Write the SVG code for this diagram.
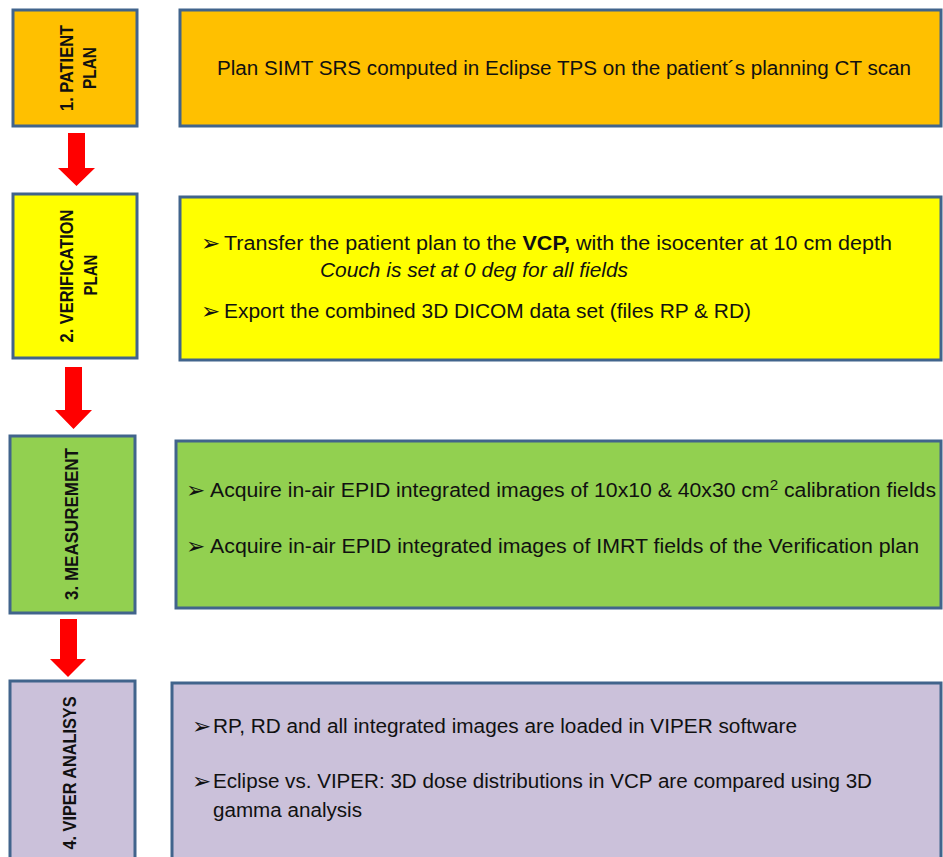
<svg xmlns="http://www.w3.org/2000/svg" width="943" height="857" viewBox="0 0 943 857">
  <style>
    .box { stroke: #41648C; stroke-width: 3; }
    .orange { fill: #FFC000; }
    .yellow { fill: #FFFF00; }
    .green { fill: #92D050; }
    .lav { fill: #CBC1DA; }
    .lbl { font-family: "Liberation Sans", Arial, sans-serif; font-weight: bold; font-size: 18px; fill: #111; text-anchor: middle; }
    .txt { font-family: "Liberation Sans", Arial, sans-serif; font-size: 19.5px; fill: #111; }
    .bul { font-family: "DejaVu Sans", sans-serif; font-size: 23px; fill: #111; }
    .arrow { fill: #FF0000; }
  </style>
  <rect x="0" y="0" width="943" height="857" fill="#FFFFFF"/>

  <g id="step1">
    <rect class="box orange" x="13" y="10" width="124" height="116"/>
    <g transform="rotate(-90)">
      <text class="lbl" x="-68" y="73" textLength="86" lengthAdjust="spacingAndGlyphs">1. PATIENT</text>
      <text class="lbl" x="-68" y="96" textLength="42" lengthAdjust="spacingAndGlyphs">PLAN</text>
    </g>
  </g>
  <g id="desc1">
    <rect class="box orange" x="180" y="10" width="761" height="116"/>
    <text class="txt" x="217" y="75" textLength="694" lengthAdjust="spacingAndGlyphs">Plan SIMT SRS computed in Eclipse TPS on the patient´s planning CT scan</text>
  </g>

  <g id="step2">
    <rect class="box yellow" x="13" y="194" width="124" height="164"/>
    <g transform="rotate(-90)">
      <text class="lbl" x="-276" y="73" textLength="133" lengthAdjust="spacingAndGlyphs">2. VERIFICATION</text>
      <text class="lbl" x="-275" y="97" textLength="41" lengthAdjust="spacingAndGlyphs">PLAN</text>
    </g>
  </g>
  <g id="desc2">
    <rect class="box yellow" x="180" y="197" width="761" height="163"/>
    <text class="bul" x="201" y="251">➢</text>
    <text class="txt" x="224" y="250" textLength="668" lengthAdjust="spacingAndGlyphs">Transfer the patient plan to the <tspan font-weight="bold">VCP,</tspan> with the isocenter at 10 cm depth</text>
    <text class="txt" x="320" y="277" font-style="italic" textLength="308" lengthAdjust="spacingAndGlyphs">Couch is set at 0 deg for all fields</text>
    <text class="bul" x="201" y="319">➢</text>
    <text class="txt" x="224" y="318" textLength="527" lengthAdjust="spacingAndGlyphs">Export the combined 3D DICOM data set (files RP &amp; RD)</text>
  </g>

  <g id="step3">
    <rect class="box green" x="10" y="436" width="125" height="177"/>
    <g transform="rotate(-90)">
      <text class="lbl" x="-524" y="78" textLength="152" lengthAdjust="spacingAndGlyphs">3. MEASUREMENT</text>
    </g>
  </g>
  <g id="desc3">
    <rect class="box green" x="176" y="441" width="765" height="167"/>
    <text class="bul" x="186" y="498">➢</text>
    <text class="txt" x="210" y="497" textLength="726" lengthAdjust="spacingAndGlyphs">Acquire in-air EPID integrated images of 10x10 &amp; 40x30 cm<tspan font-size="14" dy="-7">2</tspan><tspan dy="7"> calibration fields</tspan></text>
    <text class="bul" x="186" y="554">➢</text>
    <text class="txt" x="210" y="553" textLength="709" lengthAdjust="spacingAndGlyphs">Acquire in-air EPID integrated images of IMRT fields of the Verification plan</text>
  </g>

  <g id="step4">
    <rect class="box lav" x="10" y="681" width="125" height="190"/>
    <g transform="rotate(-90)">
      <text class="lbl" x="-773" y="76" textLength="153" lengthAdjust="spacingAndGlyphs">4. VIPER ANALISYS</text>
    </g>
  </g>
  <g id="desc4">
    <rect class="box lav" x="172" y="683" width="769" height="190"/>
    <text class="bul" x="192" y="734">➢</text>
    <text class="txt" x="213" y="733" textLength="584" lengthAdjust="spacingAndGlyphs">RP, RD and all integrated images are loaded in VIPER software</text>
    <text class="bul" x="192" y="789">➢</text>
    <text class="txt" x="213" y="788" textLength="659" lengthAdjust="spacingAndGlyphs">Eclipse vs. VIPER: 3D dose distributions in VCP are compared using 3D</text>
    <text class="txt" x="213" y="817" textLength="149" lengthAdjust="spacingAndGlyphs">gamma analysis</text>
  </g>

  <g id="connectors">
    <polygon class="arrow" points="68,133 85,133 85,168 95,168 76.5,186 58,168 68,168"/>
    <polygon class="arrow" points="65,367 82,367 82,410 92,410 73.5,429 55,410 65,410"/>
    <polygon class="arrow" points="60,619 77,619 77,659 86,659 68,677 50,659 60,659"/>
  </g>
</svg>
